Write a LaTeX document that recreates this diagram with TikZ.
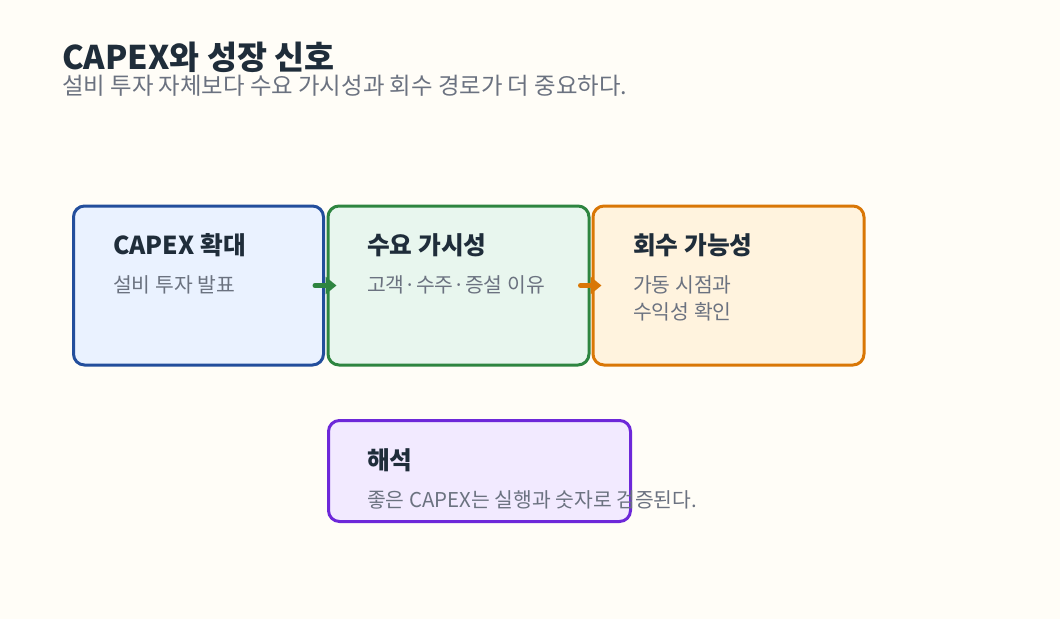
\documentclass[tikz,border=0pt]{standalone}
\usepackage{fontspec}
\usetikzlibrary{arrows.meta}
\setmainfont{Noto Sans CJK KR}
\definecolor{paper}{HTML}{FFFDF7}
\definecolor{ink}{HTML}{1F2D3A}
\definecolor{muted}{HTML}{6B7280}
\definecolor{capexline}{HTML}{234E9C}
\definecolor{capexfill}{HTML}{EAF2FF}
\definecolor{demandline}{HTML}{2E8540}
\definecolor{demandfill}{HTML}{E8F6EE}
\definecolor{payline}{HTML}{D97706}
\definecolor{payfill}{HTML}{FFF3DE}
\definecolor{noteline}{HTML}{6D28D9}
\definecolor{notefill}{HTML}{F2EAFF}
\begin{document}
\begin{tikzpicture}[x=1pt,y=-1pt,
    box/.style={draw=#1line,fill=#1fill,line width=3pt,rounded corners=11pt,inner sep=0pt},
    head/.style={anchor=base west,inner sep=0pt,text=ink,font=\fontsize{24.7}{28}\selectfont\bfseries},
    sub/.style={anchor=base west,inner sep=0pt,text=muted,font=\fontsize{20.4}{27}\selectfont},
    flow/.style={draw=#1line,line width=5pt,line cap=round,-{Triangle[length=11pt,width=17pt]},shorten <=-10pt,shorten >=-10pt}]
  \fill[paper] (0,0) rectangle (1060,619);
  \useasboundingbox (0,0) rectangle (1060,619);
  \node[anchor=base west,inner sep=0pt,text=ink,font=\fontsize{32.6}{36}\selectfont\bfseries] (title) at (62,69) {CAPEX와 성장 신호};
  \node[anchor=base west,inner sep=0pt,text=muted,font=\fontsize{23.4}{26}\selectfont] (subtitle) at (62,94) {설비 투자 자체보다 수요 가시성과 회수 경로가 더 중요하다.};
  % three steps
  \node[box=capex,minimum width=250pt,minimum height=159pt] (capex) at (198.5,285.5) {};
  \node[box=demand,minimum width=261pt,minimum height=159pt] (demand) at (458.5,285.5) {};
  \node[box=pay,minimum width=271pt,minimum height=159pt] (pay) at (728.5,285.5) {};
  \node[head] (capexhead) at (113,254) {CAPEX 확대};
  \node[sub] (capexsub) at (113,292) {설비 투자 발표};
  \node[head] (demandhead) at (367,254) {수요 가시성};
  \node[sub] (demandsub) at (367,292) {고객·수주·증설 이유};
  \node[head] (payhead) at (633,254) {회수 가능성};
  \node[sub] (paysub) at (633,292) {가동 시점과};
  \node[sub] (paysubb) at (633,319) {수익성 확인};
  \draw[flow=demand] (capex.east) -- (demand.west);
  \draw[flow=pay] (demand.east) -- (pay.west);
  % reading
  \node[box=note,minimum width=302pt,minimum height=101pt] (note) at (479.5,471) {};
  \node[head] (notehead) at (367,469.5) {해석};
  \node[sub] (notesub) at (367,507) {좋은 CAPEX는 실행과 숫자로 검증된다.};
\end{tikzpicture}
\end{document}
